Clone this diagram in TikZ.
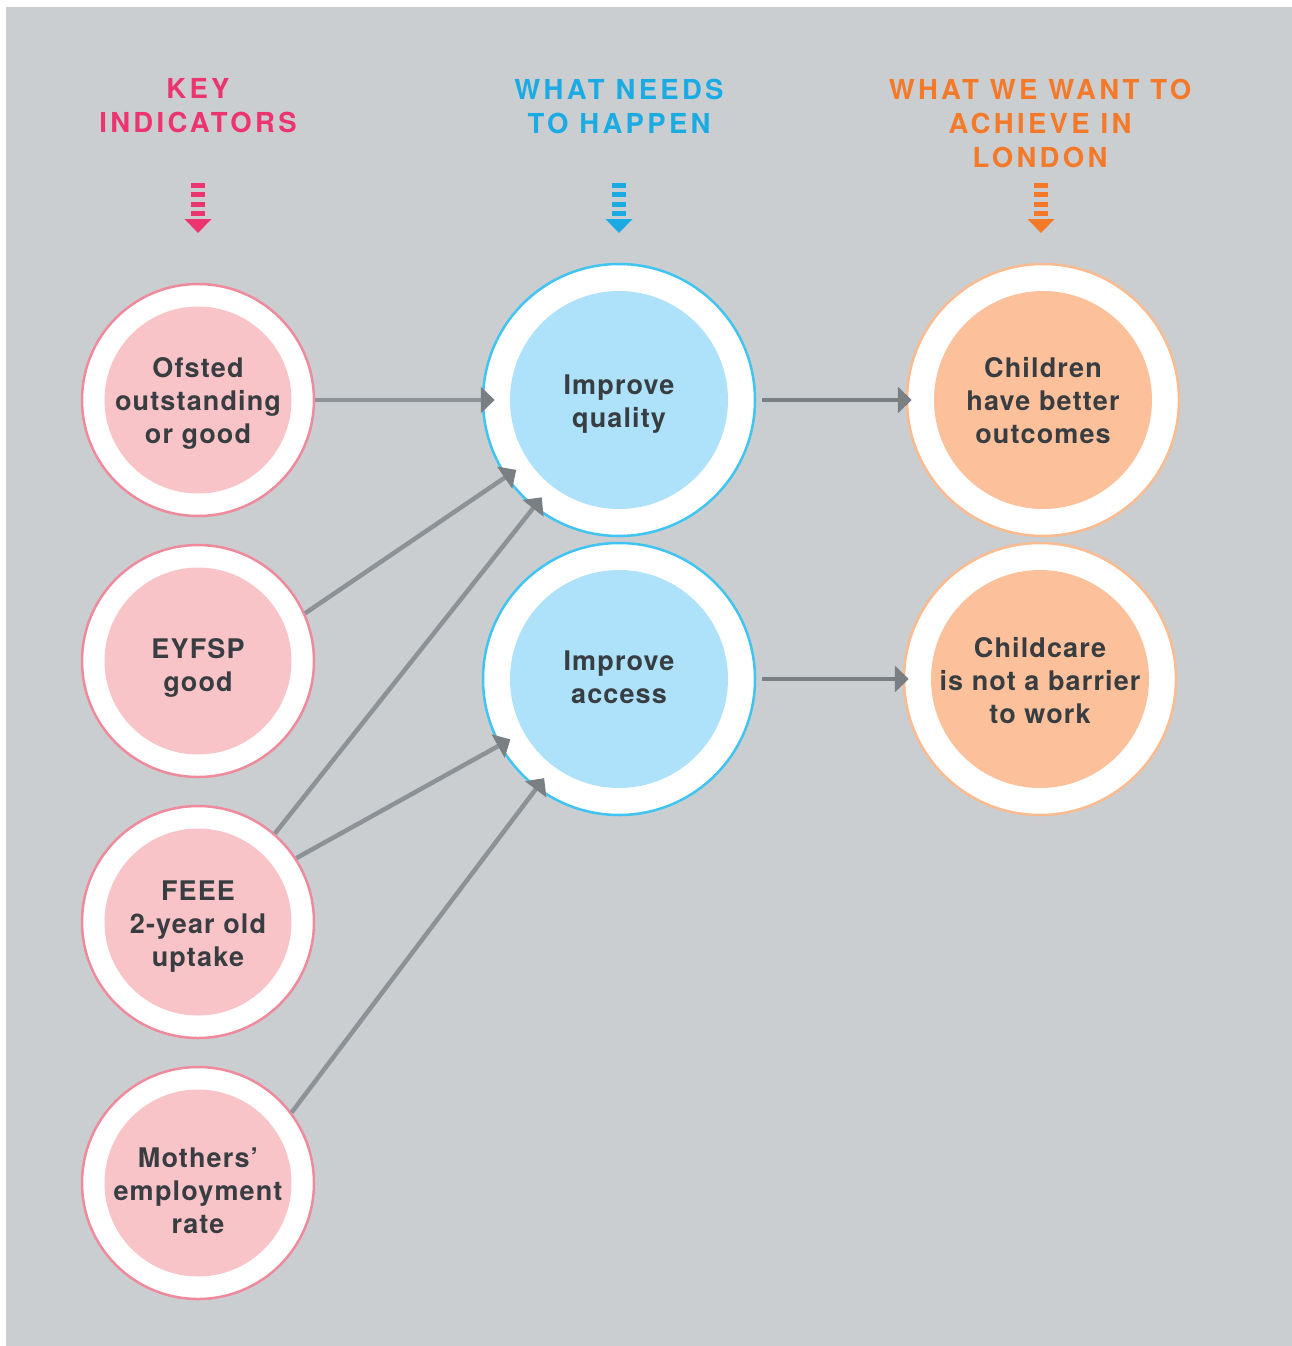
\documentclass[tikz,border=0pt]{standalone}
\usepackage{fontspec}
\newfontfamily\bodyfont{TeX Gyre Heros}[LetterSpace=4.2]
\newfontfamily\headfont{TeX Gyre Heros}[LetterSpace=12]
\usetikzlibrary{arrows.meta}
\definecolor{bggrey}{HTML}{CBCED1}
\definecolor{pinkline}{HTML}{EE8A9B}
\definecolor{pinkfill}{HTML}{F9C4C8}
\definecolor{blueline}{HTML}{40C4F1}
\definecolor{bluefill}{HTML}{AEE1FA}
\definecolor{orangeline}{HTML}{F9BB8F}
\definecolor{orangefill}{HTML}{FCC19A}
\definecolor{textgrey}{HTML}{383D42}
\definecolor{linegrey}{HTML}{8D9296}
\definecolor{tipgrey}{HTML}{7A7F84}
\definecolor{keypink}{HTML}{EC3470}
\definecolor{needblue}{HTML}{1BABE3}
\definecolor{wantorange}{HTML}{F47A2A}

\begin{document}
\begin{tikzpicture}[x=1pt, y=-1pt,
    header/.style={align=center, font=\headfont\bfseries\fontsize{27.5}{34}\selectfont},
    disc/.style n args={4}{circle, draw=#1, line width=2.5pt, fill=white,
      minimum size=#3, inner sep=0pt,
      path picture={\fill[#2] (path picture bounding box.center) circle (#4);}},
    indicator/.style={disc={pinkline}{pinkfill}{232pt}{93.5pt}},
    need/.style={disc={blueline}{bluefill}{272pt}{109pt}},
    want/.style={disc={orangeline}{orangefill}{272pt}{109pt}},
    caption/.style={align=center, text=textgrey, inner sep=0pt,
      font=\bodyfont\bfseries\fontsize{27}{33}\selectfont},
    cue/.style={line width=14pt, dash pattern=on 5pt off 4.4pt},
    link/.style={draw=linegrey, line width=4.5pt,
      -{Triangle[length=14pt, width=26pt, color=tipgrey]}, shorten >=-13pt},
    result/.style={draw=tipgrey, line width=4.5pt,
      -{Triangle[length=14pt, width=26pt]}, shorten <=6pt, shorten >=-6pt}]
  \useasboundingbox (0,0) rectangle (1292,1346);
  \fill[bggrey] (6,7) rectangle (1292,1346);

  \node[header, text=keypink] (keyhead) at (198,106) {KEY\\INDICATORS};
  \node[header, text=needblue] (needhead) at (619,106) {WHAT NEEDS\\TO HAPPEN};
  \node[header, text=wantorange] (wanthead) at (1040,123) {WHAT WE WANT TO\\ACHIEVE IN\\LONDON};

  \foreach \x/\c in {198/keypink, 619/needblue, 1041/wantorange} {
    \draw[cue, \c] (\x,183) -- (\x,216.5);
    \fill[\c] (\x-13.5,219) -- (\x+13.5,219) -- (\x,233) -- cycle;
  }

  \node[indicator] (ofsted) at (198,400) {};
  \node[indicator] (eyfsp) at (198,661) {};
  \node[indicator] (feee) at (198,922) {};
  \node[indicator] (mothers) at (198,1183) {};
  \node[need] (quality) at (619,400) {};
  \node[need] (access) at (619,679) {};
  \node[want] (children) at (1043,400) {};
  \node[want] (childcare) at (1040,679) {};

  \node[caption] (ofstedtext) at ([shift={(0,3)}]ofsted) {Ofsted\\outstanding\\or good};
  \node[caption] (eyfsptext) at ([shift={(0,7)}]eyfsp) {EYFSP\\good};
  \node[caption] (feeetext) at ([shift={(0,5)}]feee) {FEEE\\2-year old\\uptake};
  \node[caption] (motherstext) at ([shift={(0,8)}]mothers) {Mothers’\\employment\\rate};
  \node[caption] (qualitytext) at ([shift={(0,4)}]quality) {Improve\\quality};
  \node[caption] (accesstext) at ([shift={(0,-2)}]access) {Improve\\access};
  \node[caption] (childrentext) at ([shift={(0,1)}]children) {Children\\have better\\outcomes};
  \node[caption] (childcaretext) at ([shift={(0,2)}]childcare) {Childcare\\is not a barrier\\to work};

  \draw[link] (ofsted) -- (quality);
  \draw[link] (eyfsp.24) -- (quality);
  \draw[link] (feee.49) -- (quality);
  \draw[link] (feee.33) -- (access);
  \draw[link] (mothers.37) -- (access);

  \draw[result] (quality) -- (children);
  \draw[result] (access) -- (childcare);
\end{tikzpicture}
\end{document}
